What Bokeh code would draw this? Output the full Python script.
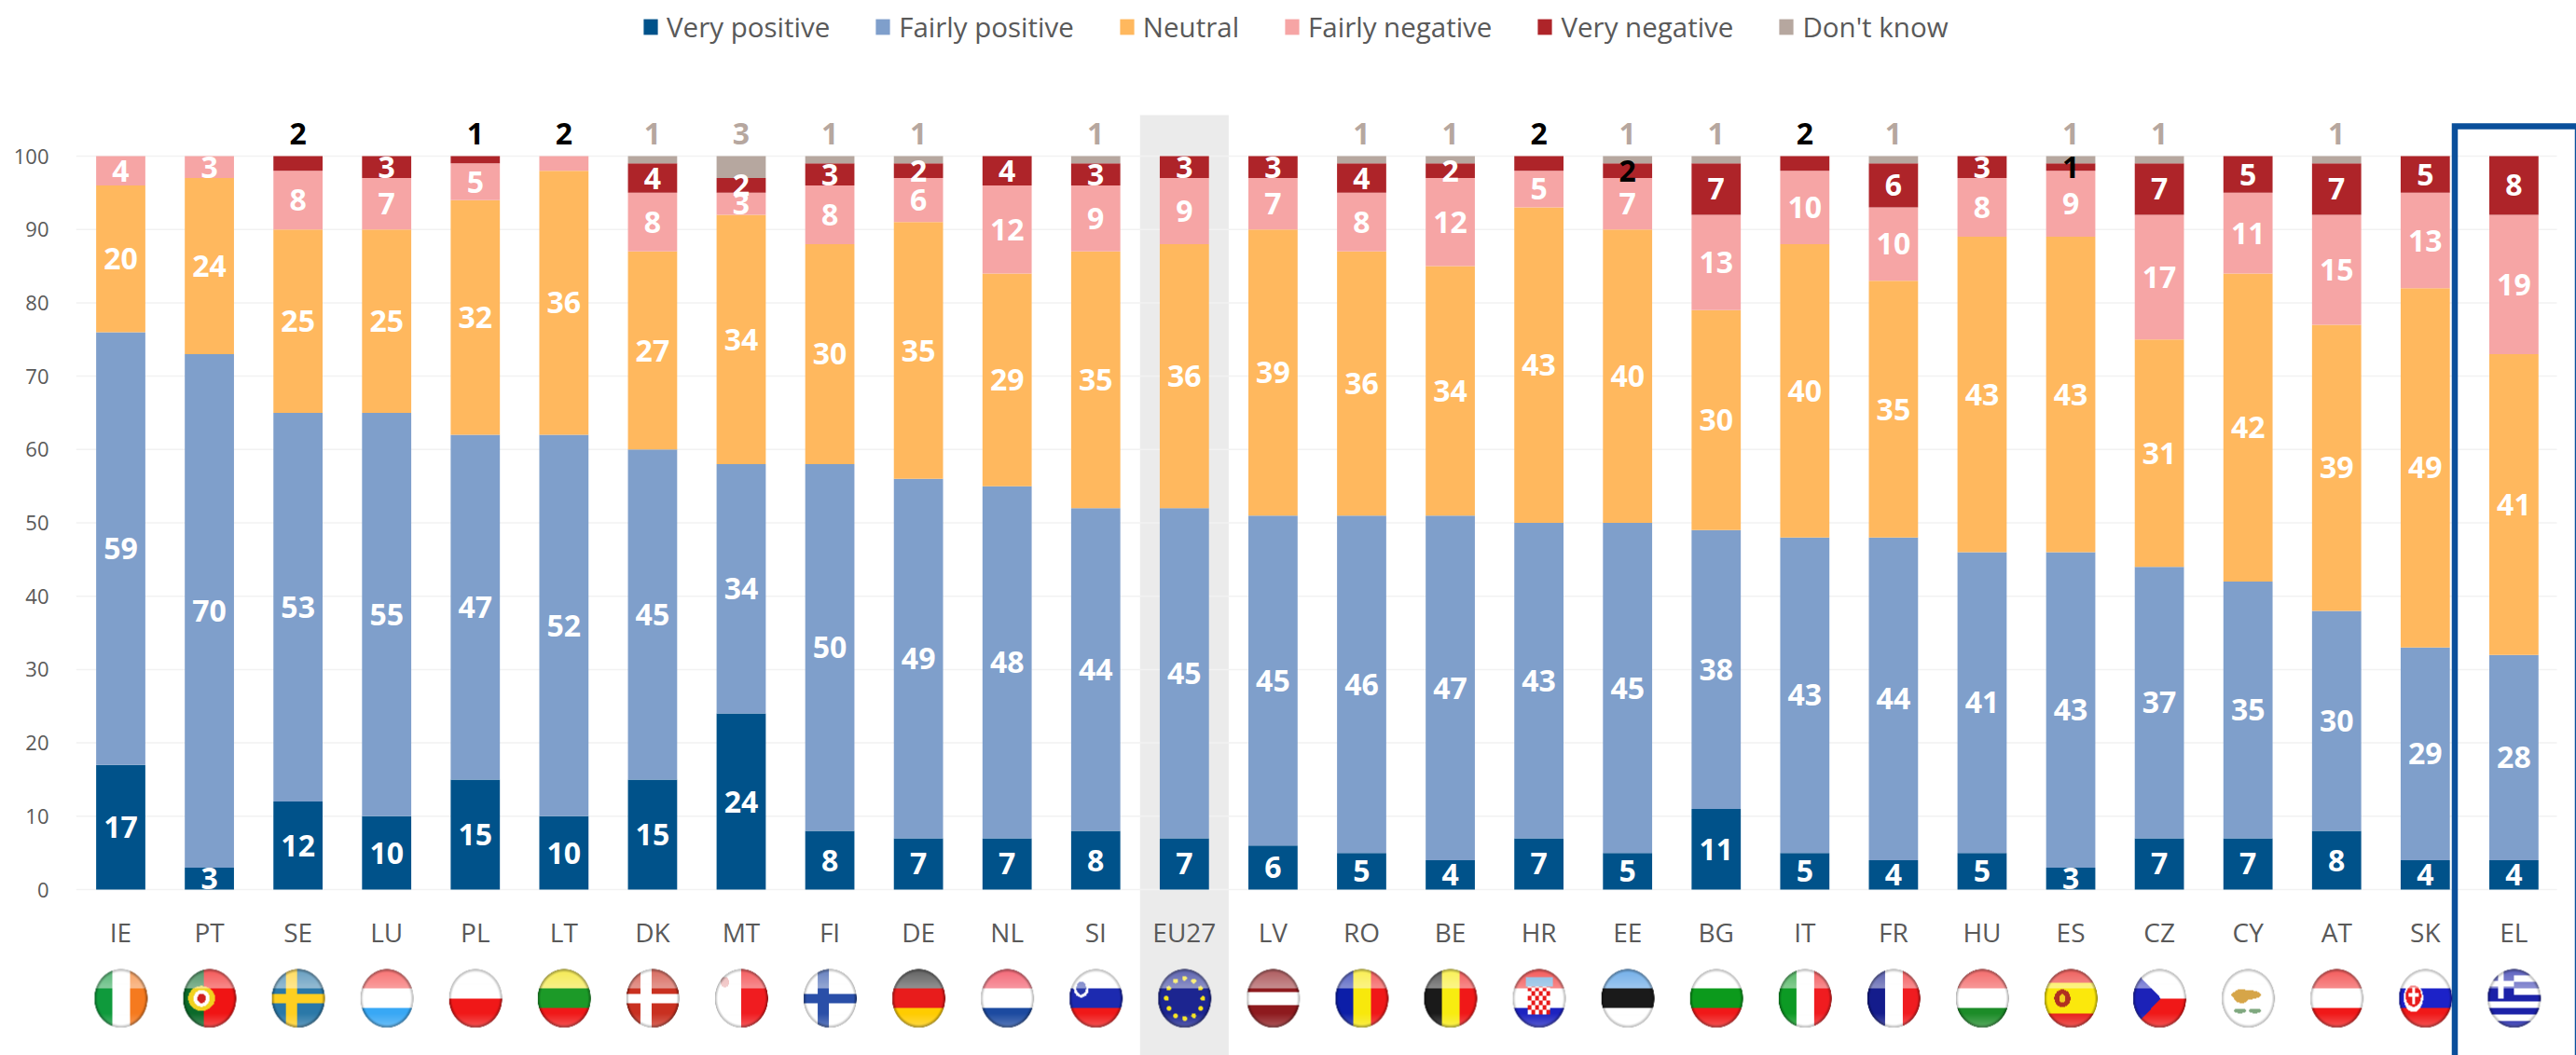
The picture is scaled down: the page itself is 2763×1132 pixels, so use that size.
import numpy as np
from bokeh.plotting import figure
from bokeh.models import ColumnDataSource, Range1d, FixedTicker
from bokeh.core.properties import value
from bokeh.embed import file_html
from bokeh.resources import INLINE

countries = ["IE","PT","SE","LU","PL","LT","DK","MT","FI","DE","NL","SI","EU27","LV","RO","BE","HR","EE","BG","IT","FR","HU","ES","CZ","CY","AT","SK","EL"]
very_positive = [17,3,12,10,15,10,15,24,8,7,7,8,7,6,5,4,7,5,11,5,4,5,3,7,7,8,4,4]
fairly_positive = [59,70,53,55,47,52,45,34,50,49,48,44,45,45,46,47,43,45,38,43,44,41,43,37,35,30,29,28]
neutral = [20,24,25,25,32,36,27,34,30,35,29,35,36,39,36,34,43,40,30,40,35,43,43,31,42,39,49,41]
fairly_negative = [4,3,8,7,5,2,8,3,8,6,12,9,9,7,8,12,5,7,13,10,10,8,9,17,11,15,13,19]
very_negative = [0,0,2,3,1,0,4,2,3,2,4,3,3,3,4,2,2,2,7,2,6,3,1,7,5,7,5,8]
dont_know = [0,0,0,0,0,0,1,3,1,1,0,1,0,0,1,1,0,1,1,0,1,0,1,1,0,1,0,0]
series_names = ["Very positive","Fairly positive","Neutral","Fairly negative","Very negative","Don't know"]
series_values = [very_positive,fairly_positive,neutral,fairly_negative,very_negative,dont_know]
series_colors = ["#00528a","#7f9fcb","#ffb85e","#f6a5a5","#ae2429","#b6a79f"]
y_ticks = [0,10,20,30,40,50,60,70,80,90,100]

# labels that the reference prints in black above the bar (country, series index)
black_above = [("SE",4),("PL",4),("LT",3),("HR",4),("IT",4)]
# labels printed in black on their own segment
black_inside = [("EE",4),("ES",4)]

FONT = "Open Sans"
GREY = "#595959"
W, H = 2763, 1132
PAGE = 0                 # the figure lands at the page origin in this renderer
LEFT = 81                # frame starts this far from the figure's left edge
PX_X = 95.07             # px per category
PX_Y = 7.87              # px per percentage point
X0_PAGE = 129            # page x of the first category
Y0_PAGE = 954            # page y of value 0

def to_x(px): return (px - X0_PAGE) / PX_X
def to_y(py): return (Y0_PAGE - py) / PX_Y

p = figure(width=W, height=H, output_backend="svg", toolbar_location=None,
           x_range=Range1d(to_x(PAGE + LEFT), to_x(PAGE + W)),
           y_range=Range1d(to_y(PAGE + H), to_y(PAGE)),
           min_border_left=LEFT, min_border_right=0, min_border_top=0, min_border_bottom=0,
           x_axis_location="below", y_axis_location="left")
p.outline_line_color = None
p.background_fill_color = "white"
p.grid.visible = False

x_idx = list(range(len(countries)))

# EU27 highlight band
eu = countries.index("EU27")
p.vbar(x=[eu], width=1.0, bottom=[to_y(PAGE + H)], top=[to_y(123)], color="#ebebeb", line_color=None)

# gridlines
p.segment(x0=[to_x(81)] * len(y_ticks), x1=[to_x(2742)] * len(y_ticks), y0=y_ticks, y1=y_ticks,
          line_color="#f2f2f2", line_width=1.5)

# stacked bars
data = {"x": x_idx}
for n, v in zip(series_names, series_values):
    data[n] = v
source = ColumnDataSource(data)
p.vbar_stack(series_names, x="x", width=0.555, source=source, color=series_colors,
             line_color=None, legend_label=series_names)

# value labels
lx, ly, lt, lc = [], [], [], []
for i, c in enumerate(countries):
    base = 0
    for s, v in enumerate(series_values):
        val = v[i]
        if val > 0:
            if s == 5:
                y, col = 103, series_colors[5]
            elif (c, s) in black_above:
                y, col = 103, "#000000"
            elif (c, s) in black_inside:
                y, col = base + val / 2, "#000000"
            else:
                y, col = base + val / 2, "#ffffff"
            lx.append(i); ly.append(y); lt.append(str(val)); lc.append(col)
        base += val
p.text(x=lx, y=ly, text=lt, text_color=lc, text_align="center", text_baseline="middle",
       text_font=value(FONT), text_font_style="bold", text_font_size="32px")

# Greek highlight frame
fl, fr, ft = to_x(2632.5), to_x(2764.5), to_y(135)
fb = to_y(PAGE + H)
p.line(x=[fl, fl, fr, fr], y=[fb, ft, ft, fb], line_color="#0a4f9b", line_width=6.5, line_join="miter")

# ---- glossy oval flags, painted into small RGBA pictures ----
FW, FH = 116, 128
vv, uu = np.mgrid[1:-1:complex(FH), -1:1:complex(FW)]   # row 0 = top, v=+1

def rgb(h): return np.array([int(h[i:i+2], 16) for i in (1, 3, 5)], float)

def hbands(img, cols):
    n = len(cols)
    for k, c in enumerate(cols):
        img[(vv <= 1 - 2 * k / n) & (vv >= 1 - 2 * (k + 1) / n - 1e-9)] = rgb(c)

def vbands(img, cols):
    n = len(cols)
    for k, c in enumerate(cols):
        img[(uu >= -1 + 2 * k / n) & (uu <= -1 + 2 * (k + 1) / n + 1e-9)] = rgb(c)

def cross(img, bg, fg, cx=-0.25):
    img[:] = rgb(bg)
    img[(np.abs(uu - cx) < 0.2) | (np.abs(vv) < 0.15)] = rgb(fg)

def disc(img, cx, cy, rx, ry, col):
    img[((uu - cx) / rx) ** 2 + ((vv - cy) / ry) ** 2 < 1] = rgb(col)

def paint(code):
    img = np.ones((FH, FW, 3)) * 255.0
    if code == "IE": vbands(img, ["#0f9a3c", "#ffffff", "#f57a1f"])
    elif code == "PT":
        img[:] = rgb("#f01414"); img[uu < -0.2] = rgb("#0b6a2a")
        disc(img, -0.3, 0, 0.5, 0.42, "#f2d21e"); disc(img, -0.3, 0, 0.3, 0.28, "#ffffff"); disc(img, -0.3, 0, 0.16, 0.16, "#d02020")
    elif code == "SE": cross(img, "#2a78a8", "#ffcf20")
    elif code == "LU": hbands(img, ["#f53a3a", "#ffffff", "#38a8f5"])
    elif code == "PL": hbands(img, ["#ffffff", "#f01818"])
    elif code == "LT": hbands(img, ["#f2e20f", "#1c9a28", "#f01818"])
    elif code == "DK": cross(img, "#c93020", "#ffffff")
    elif code == "MT":
        vbands(img, ["#ffffff", "#f01c20"]); disc(img, -0.62, 0.55, 0.16, 0.18, "#e8a0a0")
    elif code == "FI": cross(img, "#ffffff", "#2a4fa8")
    elif code == "DE": hbands(img, ["#222222", "#e81c1c", "#ffcc00"])
    elif code == "NL": hbands(img, ["#f02c40", "#ffffff", "#1c4aa0"])
    elif code == "SI":
        hbands(img, ["#ffffff", "#1c2ab0", "#f01818"])
        disc(img, -0.55, 0.35, 0.28, 0.32, "#ffffff"); disc(img, -0.55, 0.35, 0.18, 0.22, "#2838a8")
    elif code == "EU27":
        img[:] = rgb("#1c2590")
        for a in np.arange(12) * np.pi / 6:
            disc(img, 0.68 * np.cos(a), 0.68 * np.sin(a), 0.09, 0.08, "#f7e51a")
    elif code == "LV":
        img[:] = rgb("#8e1a1e"); img[np.abs(vv) < 0.22] = rgb("#ffffff")
    elif code == "RO": vbands(img, ["#0c1ea8", "#f8e80c", "#f01818"])
    elif code == "BE": vbands(img, ["#1a1a1a", "#f8ec10", "#f01818"])
    elif code == "HR":
        hbands(img, ["#f01818", "#ffffff", "#1c22c0"])
        m = (np.abs(uu) < 0.42) & (vv < 0.4) & (vv > -0.55)
        chk = (np.floor((uu + 1) * 7).astype(int) + np.floor((vv + 1) * 6.5).astype(int)) % 2 == 0
        img[m & chk] = rgb("#e81818"); img[m & ~chk] = rgb("#ffffff")
        img[(np.abs(uu) < 0.5) & (vv >= 0.4) & (vv < 0.72)] = rgb("#5aa0d8")
    elif code == "EE": hbands(img, ["#3a8fe0", "#1a1a1a", "#ffffff"])
    elif code == "BG": hbands(img, ["#ffffff", "#0c9a1c", "#f01818"])
    elif code == "IT": vbands(img, ["#0c9a24", "#ffffff", "#f01c20"])
    elif code == "FR": vbands(img, ["#141c8c", "#ffffff", "#f01c20"])
    elif code == "HU": hbands(img, ["#f03030", "#ffffff", "#1c8c28"])
    elif code == "ES":
        img[:] = rgb("#e8201c"); img[np.abs(vv) < 0.52] = rgb("#fbe80c")
        disc(img, -0.32, 0, 0.3, 0.3, "#b03020"); disc(img, -0.32, 0, 0.12, 0.14, "#f0d020")
    elif code == "CZ":
        hbands(img, ["#ffffff", "#f01818"])
        img[uu + 1 < (1 - np.abs(vv)) * 1.05] = rgb("#1c22b8")
    elif code == "CY":
        disc(img, -0.08, 0.12, 0.55, 0.16, "#d6a548"); disc(img, -0.25, 0.08, 0.3, 0.24, "#d6a548")
        disc(img, -0.3, -0.42, 0.24, 0.08, "#7fa87f"); disc(img, 0.25, -0.42, 0.24, 0.08, "#7fa87f")
    elif code == "AT": hbands(img, ["#f01818", "#ffffff", "#f01818"])
    elif code == "SK":
        hbands(img, ["#ffffff", "#1c22c8", "#f01818"])
        disc(img, -0.45, 0.02, 0.36, 0.48, "#ffffff"); disc(img, -0.45, 0.08, 0.29, 0.36, "#e81c1c")
        img[(np.abs(uu + 0.45) < 0.06) & (np.abs(vv - 0.08) < 0.28)] = rgb("#ffffff")
        img[(np.abs(vv - 0.12) < 0.05) & (np.abs(uu + 0.45) < 0.2)] = rgb("#ffffff")
    elif code == "EL":
        stripe = (np.floor((1 - vv) * 4.5).astype(int) % 2 == 0)
        img[stripe] = rgb("#1c22a8"); img[~stripe] = rgb("#ffffff")
        can = (uu < 0) & (vv > 0)
        img[can] = rgb("#1c22a8")
        img[can & ((np.abs(uu + 0.5) < 0.1) | (np.abs(vv - 0.5) < 0.09))] = rgb("#ffffff")
    r = np.sqrt(uu ** 2 + vv ** 2)
    # top sheen and soft bottom glow
    sheen = (0.5 - 0.2 * np.clip((vv - 0.35) / 0.6, 0, 1)) * (vv > 0.35)
    glow = 0.25 * np.clip((-vv - 0.5) / 0.45, 0, 1)
    light = np.clip(sheen + glow, 0, 1)[..., None]
    img = img * (1 - light) + 255 * light
    # dark rim
    rim = (0.8 * np.clip((r - 0.88) / 0.12, 0, 1))[..., None]
    shade = np.where(img.mean(axis=2, keepdims=True) > 215, 150.0, 0.0)
    img = img * (1 - rim) + (0.45 * img * (shade == 0) + shade) * rim
    a = np.clip((1 - r) * FW / 2, 0, 1)
    out = np.zeros((FH, FW), dtype=np.uint32)
    view = out.view(dtype=np.uint8).reshape((FH, FW, 4))
    view[..., :3] = np.clip(img, 0, 255).astype(np.uint8)
    view[..., 3] = (a * 255).astype(np.uint8)
    return out[::-1]          # bokeh's row 0 is the bottom

flag_w = 58 / PX_X
flag_h = 64 / PX_Y
flag_cy = to_y(1071)
p.image_rgba(image=[paint(c) for c in countries],
             x=[i - flag_w / 2 for i in x_idx],
             y=[flag_cy - flag_h / 2] * len(x_idx),
             dw=[flag_w] * len(x_idx), dh=[flag_h] * len(x_idx))

# axes
ya = p.yaxis[0]
ya.ticker = FixedTicker(ticks=y_ticks)
ya.axis_line_color = None
ya.major_tick_line_color = None
ya.minor_tick_line_color = None
ya.major_label_text_font = FONT
ya.major_label_text_font_size = "22px"
ya.major_label_text_color = GREY
ya.major_label_standoff = 23

xa = p.xaxis[0]
xa.ticker = FixedTicker(ticks=x_idx)
xa.major_label_overrides = {i: c for i, c in enumerate(countries)}
xa.fixed_location = 0
xa.axis_line_color = None
xa.major_tick_line_color = None
xa.minor_tick_line_color = None
xa.major_label_text_font = FONT
xa.major_label_text_font_size = "28px"
xa.major_label_text_color = GREY
xa.major_label_standoff = 20

# legend
lg = p.legend[0]
lg.orientation = "horizontal"
lg.location = (688 - PAGE - LEFT, H - 49)
lg.background_fill_alpha = 0
lg.border_line_color = None
lg.padding = 0
lg.margin = 0
lg.spacing = 47
lg.glyph_width = 19
lg.glyph_height = 21
lg.label_standoff = 8
lg.label_text_font = FONT
lg.label_text_font_size = "29.5px"
lg.label_text_color = GREY

open("out.html", "w").write(file_html(p, INLINE))
